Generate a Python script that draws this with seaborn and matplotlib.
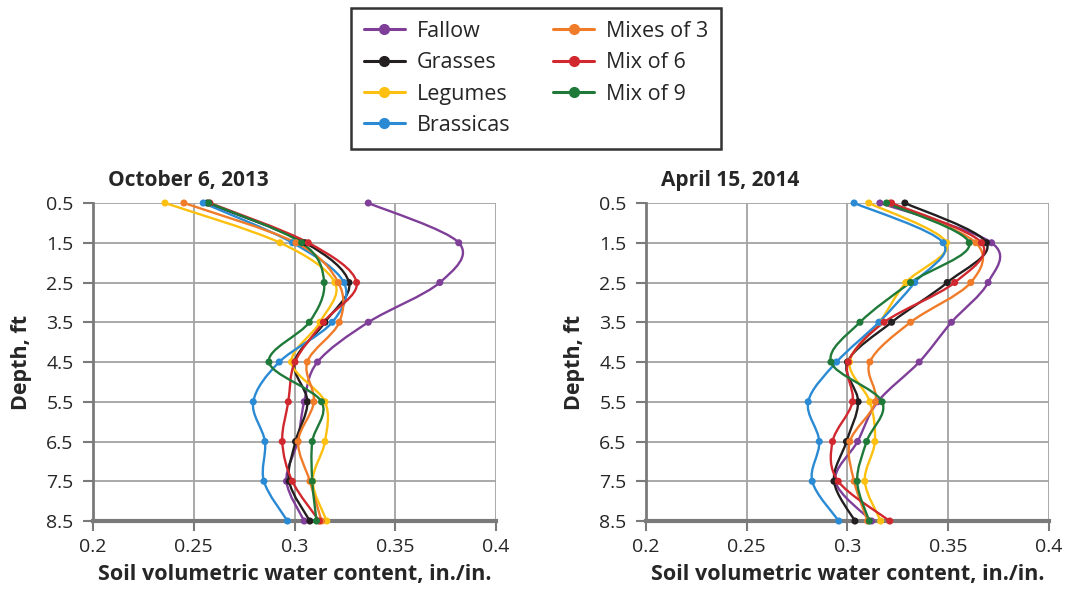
import matplotlib.pyplot as plt
import pandas as pd
import seaborn as sns
import numpy as np
from matplotlib.path import Path
from matplotlib.patches import PathPatch
from matplotlib.lines import Line2D

depths = [0.5, 1.5, 2.5, 3.5, 4.5, 5.5, 6.5, 7.5, 8.5]
series = ['Fallow', 'Grasses', 'Legumes', 'Brassicas', 'Mixes of 3', 'Mix of 6', 'Mix of 9']
colors = ['#7f3f98', '#231f20', '#fdc010', '#2a8ad4', '#f07c2a', '#d0282e', '#1f7a3a']

# October 6, 2013
oct_fallow = [0.3366, 0.3815, 0.3721, 0.3366, 0.3114, 0.3048, 0.3015, 0.2960, 0.3048]
oct_grasses = [0.2567, 0.3052, 0.3270, 0.3151, 0.3000, 0.3064, 0.3005, 0.2973, 0.3076]
oct_legumes = [0.2357, 0.2928, 0.3200, 0.3126, 0.2985, 0.3151, 0.3151, 0.3090, 0.3160]
oct_brassicas = [0.2547, 0.2990, 0.3245, 0.3187, 0.2924, 0.2795, 0.2853, 0.2848, 0.2965]
oct_mix3 = [0.2451, 0.3007, 0.3217, 0.3222, 0.3063, 0.3096, 0.3018, 0.3076, 0.3134]
oct_mix6 = [0.2580, 0.3068, 0.3308, 0.3143, 0.3002, 0.2969, 0.2939, 0.2989, 0.3123]
oct_mix9 = [0.2575, 0.3035, 0.3147, 0.3073, 0.2873, 0.3134, 0.3088, 0.3088, 0.3109]

# April 15, 2014
apr_fallow = [0.3161, 0.3715, 0.3698, 0.3516, 0.3356, 0.3150, 0.3050, 0.2940, 0.3120]
apr_grasses = [0.3285, 0.3690, 0.3495, 0.3219, 0.3000, 0.3053, 0.2995, 0.2933, 0.3037]
apr_legumes = [0.3106, 0.3492, 0.3290, 0.3160, 0.3010, 0.3111, 0.3136, 0.3086, 0.3165]
apr_brassicas = [0.3033, 0.3475, 0.3334, 0.3156, 0.2946, 0.2805, 0.2860, 0.2825, 0.2957]
apr_mix3 = [0.3211, 0.3637, 0.3612, 0.3313, 0.3111, 0.3139, 0.3012, 0.3033, 0.3100]
apr_mix6 = [0.3219, 0.3665, 0.3532, 0.3182, 0.3004, 0.3025, 0.2926, 0.2954, 0.3210]
apr_mix9 = [0.3194, 0.3604, 0.3313, 0.3062, 0.2918, 0.3172, 0.3095, 0.3048, 0.3108]

x_ticks = [0.2, 0.25, 0.3, 0.35, 0.4]
x_labels = ['0.2', '0.25', '0.3', '0.35', '0.4']
y_labels = ['0.5', '1.5', '2.5', '3.5', '4.5', '5.5', '6.5', '7.5', '8.5']

sns.set_style('white')
plt.rcParams['font.family'] = ['Open Sans', 'DejaVu Sans']


def smooth_path(xs, ys):
    # excel-style smoothed line (catmull-rom as cubic bezier)
    pts = np.column_stack([xs, ys])
    verts = [pts[0]]
    codes = [Path.MOVETO]
    n = len(pts)
    for i in range(n - 1):
        p0 = pts[max(i - 1, 0)]
        p1 = pts[i]
        p2 = pts[i + 1]
        p3 = pts[min(i + 2, n - 1)]
        verts += [p1 + (p2 - p0) / 6, p2 - (p3 - p1) / 6, p2]
        codes += [Path.CURVE4] * 3
    return Path(verts, codes)


def draw_panel(ax, values, title):
    df = pd.DataFrame({
        'depth': depths * len(series),
        'value': np.concatenate(values),
        'series': np.repeat(series, len(depths)),
    })
    for name, col, vals in zip(series, colors, values):
        patch = PathPatch(smooth_path(vals, depths), facecolor='none',
                          edgecolor=col, lw=1.7, zorder=3, clip_on=False)
        ax.add_patch(patch)
    sns.scatterplot(data=df, x='value', y='depth', hue='series',
                    palette=colors, s=26, edgecolor='none', ax=ax,
                    legend=False, zorder=4, clip_on=False)
    ax.set_xlim(0.2, 0.4)
    ax.set_ylim(8.5, 0.5)
    ax.set_xticks(x_ticks)
    ax.set_xticklabels(x_labels, fontsize=14)
    ax.set_yticks(depths)
    ax.set_yticklabels(y_labels, fontsize=14)
    ax.grid(True, color='#a3a3a3', lw=1.3)
    ax.set_axisbelow(True)
    for s in ['top', 'right']:
        ax.spines[s].set_visible(False)
    ax.spines['left'].set_color('#7a7a7a')
    ax.spines['left'].set_linewidth(2)
    ax.spines['bottom'].set_color('#7a7a7a')
    ax.spines['bottom'].set_linewidth(3)
    ax.tick_params(axis='both', direction='out', length=7, width=1.5,
                   color='#7a7a7a', left=True, bottom=True)
    ax.tick_params(axis='y', pad=7)
    ax.tick_params(axis='x', pad=5)
    ax.set_xlabel('Soil volumetric water content, in./in.',
                  fontsize=15.5, fontweight='bold', labelpad=6)
    ax.set_ylabel('Depth, ft', fontsize=15.5, fontweight='bold', labelpad=10)
    ax.text(0.037, 1.072, title, transform=ax.transAxes, fontsize=15,
            fontweight='bold', va='center', ha='left')


fig = plt.figure(figsize=(10.67, 5.96), dpi=100)
ax1 = fig.add_axes([0.0872, 0.1258, 0.3777, 0.5336])
ax2 = fig.add_axes([0.6054, 0.1258, 0.3777, 0.5336])

draw_panel(ax1, [oct_fallow, oct_grasses, oct_legumes, oct_brassicas,
                 oct_mix3, oct_mix6, oct_mix9], 'October 6, 2013')
draw_panel(ax2, [apr_fallow, apr_grasses, apr_legumes, apr_brassicas,
                 apr_mix3, apr_mix6, apr_mix9], 'April 15, 2014')

handles = [Line2D([0], [0], color=c, lw=2.2, marker='o', markersize=7)
           for c in colors]
leg = fig.legend(handles, series, loc='upper center',
                 bbox_to_anchor=(536 / 1067, 1 - 8 / 596), ncol=2,
                 fontsize=15.5, frameon=True, fancybox=False,
                 handlelength=1.9, columnspacing=2.0, labelspacing=0.48,
                 borderpad=0.6, handletextpad=0.55, borderaxespad=0)
leg.get_frame().set_edgecolor('black')
leg.get_frame().set_linewidth(1.8)

fig.savefig('out.png', dpi=100)
